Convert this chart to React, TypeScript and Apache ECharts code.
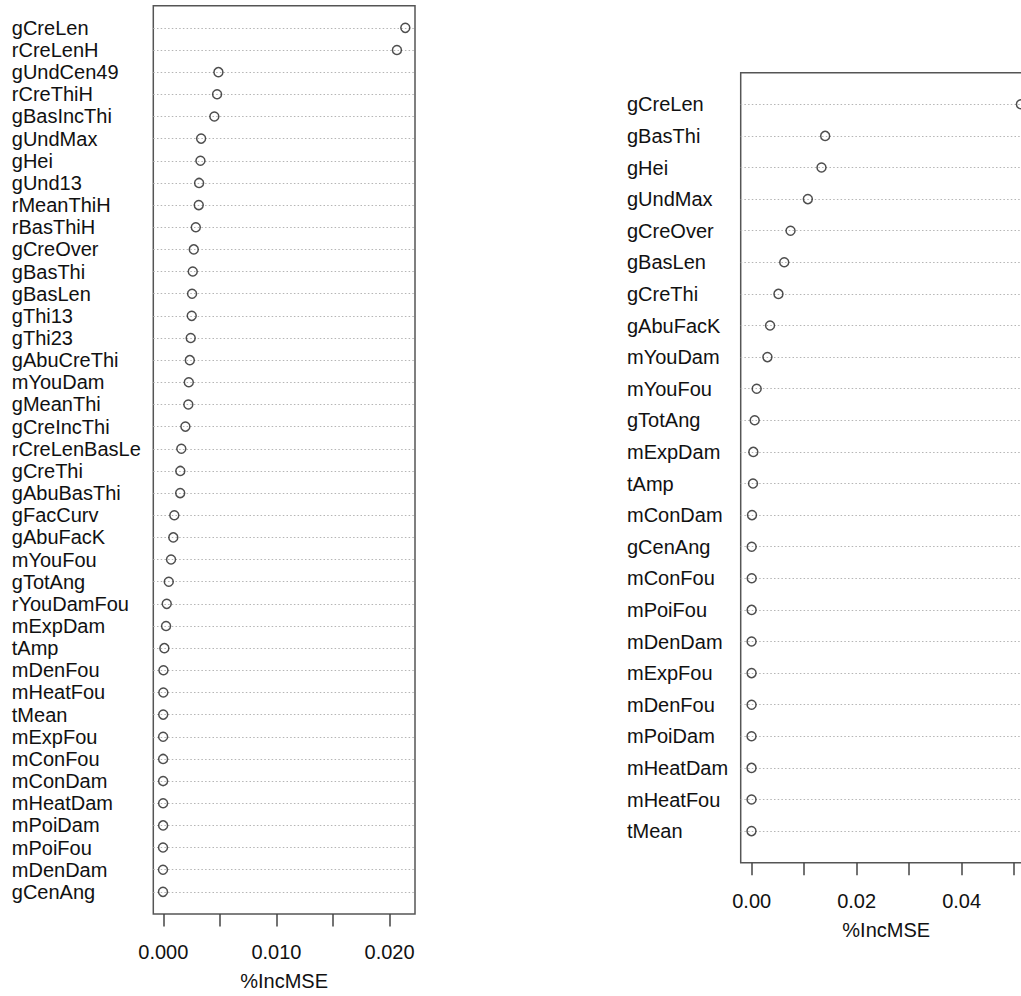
import React, { useEffect, useRef } from "react";
import * as echarts from "echarts";

// Left panel (top to bottom)
const leftNames = [
  "gCreLen", "rCreLenH", "gUndCen49", "rCreThiH", "gBasIncThi", "gUndMax", "gHei", "gUnd13",
  "rMeanThiH", "rBasThiH", "gCreOver", "gBasThi", "gBasLen", "gThi13", "gThi23", "gAbuCreThi",
  "mYouDam", "gMeanThi", "gCreIncThi", "rCreLenBasLe", "gCreThi", "gAbuBasThi", "gFacCurv",
  "gAbuFacK", "mYouFou", "gTotAng", "rYouDamFou", "mExpDam", "tAmp", "mDenFou", "mHeatFou",
  "tMean", "mExpFou", "mConFou", "mConDam", "mHeatDam", "mPoiDam", "mPoiFou", "mDenDam", "gCenAng",
];
const leftValues = [
  0.02139, 0.02065, 0.00487, 0.00475, 0.00451, 0.00334, 0.00328, 0.00316,
  0.00313, 0.00287, 0.00269, 0.0026, 0.00254, 0.00251, 0.00242, 0.00234,
  0.00225, 0.00221, 0.00195, 0.00159, 0.0015, 0.00149, 0.00097,
  0.00088, 0.00068, 0.00048, 0.0003, 0.00024, 0.00009, 0.00001, 0.0,
  -0.00001, -0.00002, -0.00002, -0.00002, -0.00002, -0.00002, -0.00003, -0.00003, -0.00003,
];
const leftTicks = [0, 0.005, 0.01, 0.015, 0.02];
const leftTickLabels = [0, 0.01, 0.02];

// Right panel (top to bottom)
const rightNames = [
  "gCreLen", "gBasThi", "gHei", "gUndMax", "gCreOver", "gBasLen", "gCreThi", "gAbuFacK",
  "mYouDam", "mYouFou", "gTotAng", "mExpDam", "tAmp", "mConDam", "gCenAng", "mConFou",
  "mPoiFou", "mDenDam", "mExpFou", "mDenFou", "mPoiDam", "mHeatDam", "mHeatFou", "tMean",
];
const rightValues = [
  0.0513, 0.014, 0.0133, 0.0107, 0.0074, 0.0062, 0.0051, 0.0035,
  0.003, 0.00095, 0.00057, 0.00031, 0.00025, 0.00006, 0.0, 0.0,
  -0.00001, -0.00002, -0.00002, -0.00002, -0.00003, -0.00003, -0.00003, -0.00004,
];
const rightTicks = [0, 0.01, 0.02, 0.03, 0.04, 0.05];
const rightTickLabels = [0, 0.02, 0.04];

const FONT = "'Liberation Sans', Arial, Helvetica, sans-serif";
const TEXT = "#111";
const FS = 20;

function xrange(vals: number[]) {
  const lo = Math.min(...vals);
  const hi = Math.max(...vals);
  const ext = (hi - lo) * 0.04;
  return [lo - ext, hi + ext];
}

export default function App() {
  const ref = useRef<HTMLDivElement>(null);
  useEffect(() => {
    const chart = echarts.init(ref.current!, null, { renderer: "svg" });

    const panels = [
      {
        names: leftNames, values: leftValues, ticks: leftTicks, tickLabels: leftTickLabels, digits: 3,
        grid: { left: 153.3, top: 5.7, width: 261.7, height: 911 }, labelMargin: 141.5,
      },
      {
        names: rightNames, values: rightValues, ticks: rightTicks, tickLabels: rightTickLabels, digits: 2,
        grid: { left: 740.7, top: 72.7, width: 291, height: 790 }, labelMargin: 113.7,
      },
    ];

    const grids: any[] = [];
    const xAxes: any[] = [];
    const yAxes: any[] = [];
    const series: any[] = [];

    panels.forEach((p, gi) => {
      const n = p.names.length;
      const cats = ["", ...[...p.names].reverse(), ""];
      const [xmin, xmax] = xrange(p.values);
      grids.push({
        ...p.grid,
        show: true,
        borderColor: "#555",
        borderWidth: 1.5,
        backgroundColor: "transparent",
        containLabel: false,
      });
      xAxes.push({
        type: "value",
        gridIndex: gi,
        min: xmin,
        max: xmax,
        axisLine: { show: false },
        splitLine: { show: false },
        axisTick: {
          show: true,
          customValues: p.ticks,
          length: 12.6,
          lineStyle: { color: "#444", width: 1.5 },
        },
        axisLabel: {
          show: true,
          customValues: p.tickLabels,
          formatter: (v: number) => v.toFixed(p.digits),
          margin: 28,
          fontSize: FS,
          fontFamily: FONT,
          color: TEXT,
        },
        name: "%IncMSE",
        nameLocation: "middle",
        nameGap: 57,
        nameTextStyle: { fontSize: FS, fontFamily: FONT, color: TEXT },
      });
      yAxes.push({
        type: "category",
        gridIndex: gi,
        data: cats,
        boundaryGap: false,
        axisLine: { show: false },
        axisTick: { show: false },
        axisLabel: {
          show: true,
          interval: 0,
          align: "left",
          margin: p.labelMargin,
          fontSize: FS,
          fontFamily: FONT,
          color: TEXT,
        },
        splitLine: {
          show: true,
          interval: (idx: number) => idx > 0 && idx < n + 1,
          lineStyle: { color: "#b5b5b5", width: 1, type: [1.5, 2.2] },
        },
      });
      series.push({
        type: "scatter",
        xAxisIndex: gi,
        yAxisIndex: gi,
        symbol: "circle",
        symbolSize: 9,
        itemStyle: { color: "rgba(0,0,0,0)", borderColor: "#222", borderWidth: 1.5 },
        data: p.values.map((v, i) => [v, n - i]),
        z: 5,
      });
    });

    chart.setOption({
      animation: false,
      backgroundColor: "#fff",
      grid: grids,
      xAxis: xAxes,
      yAxis: yAxes,
      series,
    });
    return () => chart.dispose();
  }, []);

  return (
    <div
      style={{
        position: "absolute",
        left: 0,
        top: 0,
        width: 1021,
        height: 996,
        overflow: "hidden",
        background: "#fff",
      }}
    >
      <div ref={ref} style={{ width: 1080, height: 996 }} />
    </div>
  );
}
